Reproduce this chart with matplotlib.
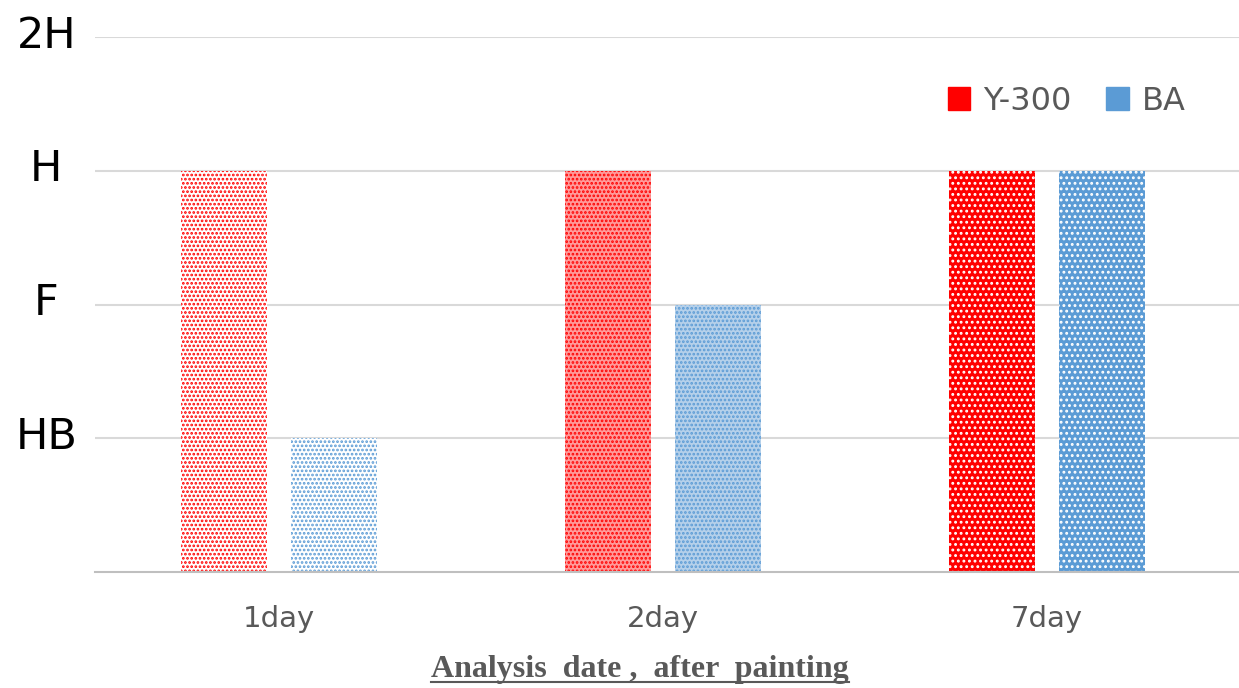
import numpy as np
import matplotlib
matplotlib.use("Agg")
from matplotlib import pyplot as plt
from matplotlib.patches import Patch
from matplotlib.lines import Line2D
from matplotlib.transforms import ScaledTranslation

# data
days = ["1day", "2day", "7day"]
y300 = [3, 3, 3]          # pencil grade index: 1=HB, 2=F, 3=H, 4=2H
ba = [1, 2, 3]
grade_ticks = [1, 2, 3, 4]
grade_labels = ["HB", "F", "H", "2H"]

# styles
RED = "#ff0000"
BLUE = "#5b9bd5"
GRID = "#d9d9d9"
TXT = "#595959"
# (facecolor, hatchcolor, hatch) per day, for each series
red_style = [("white", RED, "...."), ("#ff9a9a", RED, "...."), (RED, "white", "...")]
blue_style = [("white", BLUE, "...."), ("#b5d0ea", BLUE, "...."), (BLUE, "white", "...")]

plt.rcParams["hatch.linewidth"] = 1.3

fig = plt.figure(figsize=(12.39, 6.88), dpi=100)
ax = fig.add_axes([95 / 1239, 1 - 572 / 688, 1 - 95 / 1239, (572 - 37) / 688])

x = np.arange(len(days))
w = 0.224
off = 0.143
for i in range(len(days)):
    fc, hc, h = red_style[i]
    ax.bar(x[i] - off, y300[i], w, color=fc, edgecolor=hc, hatch=h, linewidth=0, zorder=2)
    fc, hc, h = blue_style[i]
    ax.bar(x[i] + off, ba[i], w, color=fc, edgecolor=hc, hatch=h, linewidth=0, zorder=2)

ax.set_xlim(-0.479, 2.5)
ax.set_ylim(0, 4)
ax.set_yticks(grade_ticks)
ax.set_yticklabels(grade_labels, fontsize=31, color="black", ha="center")
ax.tick_params(axis="y", length=0, pad=35)
up = ScaledTranslation(0, 6 / 100, fig.dpi_scale_trans)
for lab in ax.get_yticklabels():
    lab.set_transform(lab.get_transform() + up)
ax.set_xticks(x)
ax.set_xticklabels(days, fontsize=21, color=TXT)
ax.tick_params(axis="x", length=0, pad=24)
ax.grid(axis="y", color=GRID, linewidth=1.5, zorder=0)
for s in ["top", "right", "left"]:
    ax.spines[s].set_visible(False)
ax.spines["bottom"].set_color("#bfbfbf")
ax.spines["bottom"].set_linewidth(1.5)

handles = [Patch(color=RED, label="Y-300"), Patch(color=BLUE, label="BA")]
ax.legend(handles=handles, loc="upper right", bbox_to_anchor=(1214 / 1239, 1 - 57 / 688),
          bbox_transform=fig.transFigure, frameon=False, fontsize=23, ncol=2,
          handlelength=0.7, handleheight=0.7, handletextpad=0.4, columnspacing=1.1,
          labelcolor=TXT)

t = fig.text(640 / 1239, 1 - 670 / 688, "Analysis  date ,  after  painting",
             ha="center", va="center", fontsize=23, fontweight="bold",
             family="Liberation Serif", color=TXT)
fig.canvas.draw()
bb = t.get_window_extent()
fig.add_artist(Line2D([bb.x0, bb.x1], [bb.y0 + 3, bb.y0 + 3], transform=None,
                      color=TXT, linewidth=1.5))

fig.savefig("out.png", dpi=100)
